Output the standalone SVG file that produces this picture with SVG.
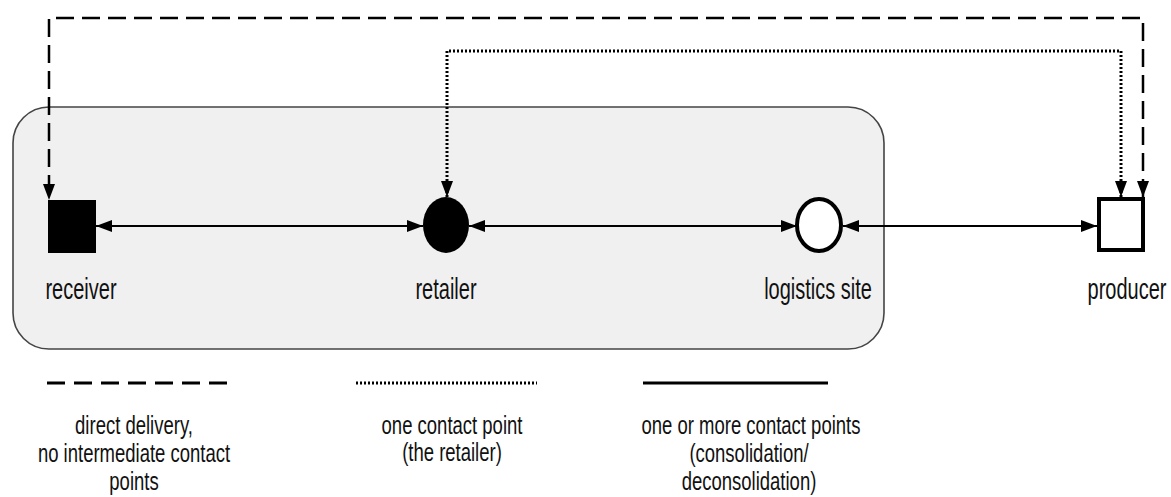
<svg xmlns="http://www.w3.org/2000/svg" width="1171" height="497" viewBox="0 0 1171 497">
<style>
.lbl{font-family:"Liberation Sans",Arial,sans-serif;font-size:20px;fill:#111;text-anchor:middle}
.leg{font-family:"Liberation Sans",Arial,sans-serif;font-size:18.5px;fill:#111;text-anchor:middle}
.conn{fill:none;stroke:#000;stroke-width:2}
.dash{stroke-dasharray:18 8;stroke-width:2.5}
.dot{stroke-dasharray:2 2;stroke-width:3}
</style>
<defs>
<marker id="ah" viewBox="0 0 16 12" refX="16" refY="6" markerWidth="16" markerHeight="12" markerUnits="userSpaceOnUse" orient="auto-start-reverse">
<path d="M0,0 L16,6 L0,12 z" fill="#000" stroke="none"/>
</marker>
</defs>
<rect width="1171" height="497" fill="#fff"/>
<g id="region">
<rect x="13" y="107" width="871" height="242" rx="36" ry="36" fill="#f0f0f0" stroke="#444" stroke-width="1.6"/>
</g>
<g id="connectors">
<line class="conn" x1="96" y1="226" x2="423" y2="226" marker-start="url(#ah)" marker-end="url(#ah)"/>
<line class="conn" x1="469" y1="226" x2="797" y2="226" marker-start="url(#ah)" marker-end="url(#ah)"/>
<line class="conn" x1="843" y1="226" x2="1097" y2="226" marker-start="url(#ah)" marker-end="url(#ah)"/>
<path class="conn dash" d="M1143,197 V18 H49 V200" marker-start="url(#ah)" marker-end="url(#ah)"/>
<path class="conn dot" d="M1121,197 V51 H447 V197" marker-start="url(#ah)" marker-end="url(#ah)"/>
</g>
<g id="receiver">
<rect x="48" y="200" width="48" height="53" fill="#000"/>
<text class="lbl" transform="translate(81,299) scale(1,1.45)">receiver</text>
</g>
<g id="retailer">
<ellipse cx="446" cy="225" rx="23" ry="28" fill="#000"/>
<text class="lbl" transform="translate(446,299) scale(1,1.45)">retailer</text>
</g>
<g id="logistics-site">
<ellipse cx="819" cy="225" rx="22" ry="26" fill="#fff" stroke="#000" stroke-width="4"/>
<text class="lbl" transform="translate(818,299) scale(1,1.45)">logistics site</text>
</g>
<g id="producer">
<rect x="1099" y="199" width="44" height="51" fill="#fff" stroke="#000" stroke-width="4"/>
<text class="lbl" transform="translate(1127,299) scale(1,1.45)">producer</text>
</g>
<g id="legend">
<line x1="47" y1="383" x2="227" y2="383" stroke="#000" stroke-width="3" stroke-dasharray="18 9"/>
<line x1="356" y1="383" x2="537" y2="383" stroke="#000" stroke-width="3" stroke-dasharray="2 2"/>
<line x1="643" y1="383" x2="828" y2="383" stroke="#000" stroke-width="3"/>
<text class="leg" transform="translate(134,434) scale(1,1.38)">direct delivery,</text>
<text class="leg" transform="translate(134,462) scale(1,1.38)">no intermediate contact</text>
<text class="leg" transform="translate(134,490) scale(1,1.38)">points</text>
<text class="leg" transform="translate(452,434) scale(1,1.38)">one contact point</text>
<text class="leg" transform="translate(452,461) scale(1,1.38)">(the retailer)</text>
<text class="leg" transform="translate(751,434) scale(1,1.38)">one or more contact points</text>
<text class="leg" transform="translate(749,462) scale(1,1.38)">(consolidation/</text>
<text class="leg" transform="translate(749,490) scale(1,1.38)">deconsolidation)</text>
</g>
</svg>
